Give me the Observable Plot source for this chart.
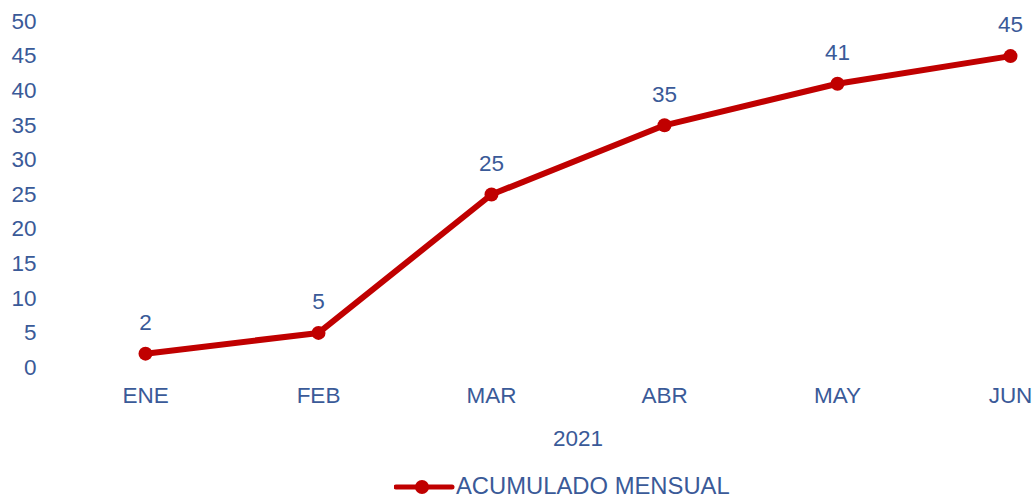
<!DOCTYPE html>
<html>
<head>
<meta charset="utf-8">
<script src="https://cdn.jsdelivr.net/npm/d3@7"></script>
<script src="https://cdn.jsdelivr.net/npm/@observablehq/plot@0.6"></script>
<style>
  html, body { margin: 0; padding: 0; background: #fff; }
  body { width: 1035px; height: 497px; overflow: hidden; font-family: "Liberation Sans", Arial, sans-serif; }
  #legend { position: relative; height: 23px; }
  #legend svg { position: absolute; left: 394px; top: 0; }
  #legend span { position: absolute; left: 456px; top: -1px; font-size: 23.8px; line-height: 25px; color: #3A5A98; }
</style>
</head>
<body>
<div id="chart"></div>
<div id="legend"></div>
<script>
const months = ["ENE", "FEB", "MAR", "ABR", "MAY", "JUN"];
const values = [2, 5, 25, 35, 41, 45];
const yTicks = [0, 5, 10, 15, 20, 25, 30, 35, 40, 45, 50];
const xTitle = "2021";
const seriesName = "ACUMULADO MENSUAL";

const data = months.map((m, i) => ({ month: m, value: values[i] }));
const red = "#C00000";
const blue = "#3A5A98";

const chart = Plot.plot({
  width: 1035,
  height: 474,
  marginLeft: 145,
  marginRight: 25,
  marginTop: 21,
  marginBottom: 107,
  style: { fontFamily: "'Liberation Sans', Arial, sans-serif", fontSize: "22.5px", color: blue, background: "#fff" },
  x: { type: "point", domain: months, padding: 0 },
  y: { domain: [0, 50] },
  marks: [
    Plot.axisY({ ticks: yTicks, tickSize: 0, tickPadding: 109, label: null, fill: blue, fontSize: 22.5 }),
    Plot.axisX({ tickSize: 0, tickPadding: 20, label: null, fill: blue, fontSize: 22.5 }),
    Plot.text([xTitle], { frameAnchor: "bottom", dy: 78, fill: blue, fontSize: 22.5 }),
    Plot.line(data, { x: "month", y: "value", stroke: red, strokeWidth: 6, strokeLinejoin: "round" }),
    Plot.dot(data, { x: "month", y: "value", r: 7, fill: red, stroke: "none" }),
    Plot.text(data, { x: "month", y: "value", text: d => String(d.value), dy: -31, fill: blue, fontSize: 22.5 })
  ]
});
document.getElementById("chart").appendChild(chart);

const leg = document.getElementById("legend");
leg.innerHTML = `<svg width="62" height="23"><line x1="2" y1="13" x2="58" y2="13" stroke="${red}" stroke-width="5" stroke-linecap="round"/><circle cx="28" cy="13" r="7" fill="${red}"/></svg><span>${seriesName}</span>`;
</script>
</body>
</html>
